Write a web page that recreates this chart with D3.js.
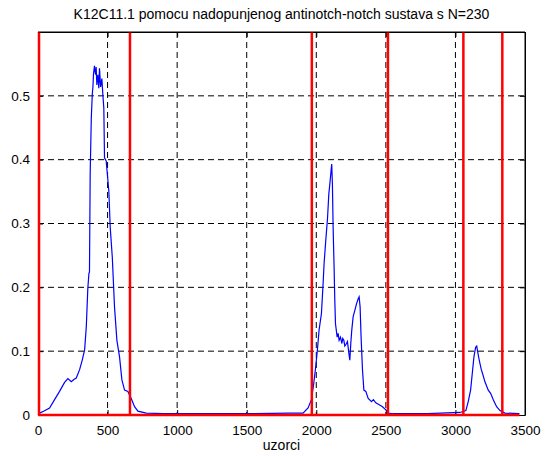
<!DOCTYPE html>
<html>
<head>
<meta charset="utf-8">
<script src="https://cdn.jsdelivr.net/npm/d3@7"></script>
<style>
  body { margin: 0; background: #fff; }
  text { font-family: "Liberation Sans", Arial, sans-serif; }
</style>
</head>
<body>
<svg id="chart" width="550" height="456"></svg>
<script>
// chart text
let title = "K12C11.1 pomocu nadopunjenog antinotch-notch sustava s N=230",
    xLabel = "uzorci";

let xTicks = [0, 500, 1000, 1500, 2000, 2500, 3000, 3500],
    yTicks = [0, 0.1, 0.2, 0.3, 0.4, 0.5];

// signal (sample index, value)
let sampleX = [0, 11, 40, 83, 119, 155, 191, 215, 239, 260, 275, 299, 318, 335, 347, 358, 366, 370, 375, 383, 390, 395,
               399, 406, 410, 414, 418, 423, 430, 437, 442, 450, 459, 466, 473, 478, 490, 509, 519, 534, 550, 567, 586,
               603, 622, 646, 670, 694, 718, 778, 900, 1200, 1500, 1810, 1905, 1941, 1965, 1982, 1996, 2008, 2020, 2037,
               2049, 2056, 2068, 2081, 2090, 2097, 2106, 2111, 2116, 2121, 2128, 2133, 2138, 2150, 2157, 2164, 2174, 2184,
               2190, 2198, 2205, 2212, 2224, 2234, 2241, 2248, 2255, 2265, 2277, 2289, 2301, 2308, 2315, 2322, 2332, 2342,
               2356, 2373, 2397, 2410, 2428, 2452, 2476, 2500, 2516, 2552, 2800, 3032, 3075, 3092, 3109, 3121, 3133, 3145,
               3153, 3160, 3171, 3186, 3195, 3212, 3236, 3253, 3272, 3296, 3320, 3356, 3460];
let sampleY = [0, 0.003, 0.006, 0.011, 0.024, 0.037, 0.051, 0.057, 0.052, 0.056, 0.058, 0.071, 0.086, 0.102, 0.138, 0.198,
               0.222, 0.224, 0.377, 0.465, 0.502, 0.515, 0.535, 0.547, 0.538, 0.533, 0.545, 0.517, 0.533, 0.512, 0.543,
               0.514, 0.527, 0.502, 0.481, 0.403, 0.398, 0.351, 0.294, 0.247, 0.169, 0.117, 0.091, 0.055, 0.039, 0.037,
               0.026, 0.013, 0.006, 0.003, 0.002, 0.002, 0.002, 0.003, 0.003, 0.011, 0.024, 0.050, 0.076, 0.102, 0.133,
               0.159, 0.206, 0.237, 0.273, 0.309, 0.346, 0.361, 0.382, 0.393, 0.361, 0.294, 0.231, 0.180, 0.143, 0.122,
               0.128, 0.117, 0.122, 0.112, 0.120, 0.117, 0.108, 0.110, 0.115, 0.097, 0.086, 0.112, 0.133, 0.154, 0.164,
               0.174, 0.182, 0.185, 0.169, 0.122, 0.071, 0.039, 0.037, 0.026, 0.021, 0.024, 0.019, 0.016, 0.013, 0.008,
               0.003, 0.002, 0.002, 0.004, 0.007, 0.021, 0.039, 0.065, 0.091, 0.106, 0.108, 0.099, 0.086, 0.071, 0.065,
               0.052, 0.039, 0.034, 0.024, 0.013, 0.007, 0.003, 0.002];

// detected segment boundaries (red)
let boundaries = [0, 661, 1968, 2515, 3057, 3337];
let baselineEnd = 3460;

let margin = {left: 38, top: 32, right: 25, bottom: 41},
    width = 550 - margin.left - margin.right,
    height = 456 - margin.top - margin.bottom;

let x = d3.scaleLinear().domain([0, 3500]).range([0, width]);
let y = d3.scaleLinear().domain([0, 0.6]).range([height, 0]);

let svg = d3.select("#chart");
let g = svg.append("g")
    .attr("transform", "translate(" + margin.left + "," + margin.top + ")");

// grid
g.append("g").selectAll("line")
  .data(xTicks.slice(1, -1))
  .join("line")
    .attr("x1", d => x(d)).attr("x2", d => x(d))
    .attr("y1", 0).attr("y2", height)
    .attr("stroke", "#000").attr("stroke-width", 1)
    .attr("stroke-dasharray", "6,4");

g.append("g").selectAll("line")
  .data(yTicks.slice(1))
  .join("line")
    .attr("x1", 0).attr("x2", width)
    .attr("y1", d => y(d)).attr("y2", d => y(d))
    .attr("stroke", "#000").attr("stroke-width", 1)
    .attr("stroke-dasharray", "6,4");

// axes, ticks inward like matlab
let fmt = d => d === 0 ? "0" : d3.format(".1f")(d);
let xAxis = g.append("g")
    .attr("transform", "translate(0," + height + ")")
    .call(d3.axisBottom(x).tickValues(xTicks).tickSizeInner(-5).tickSizeOuter(0).tickPadding(10).tickFormat(d3.format("d")));
let xAxisTop = g.append("g")
    .call(d3.axisTop(x).tickValues(xTicks).tickSizeInner(-5).tickSizeOuter(0).tickFormat(""));
let yAxis = g.append("g")
    .call(d3.axisLeft(y).tickValues(yTicks).tickSizeInner(-5).tickSizeOuter(0).tickPadding(8).tickFormat(fmt));
let yAxisRight = g.append("g")
    .attr("transform", "translate(" + width + ",0)")
    .call(d3.axisRight(y).tickValues(yTicks).tickSizeInner(-5).tickSizeOuter(0).tickFormat(""));

[xAxis, xAxisTop, yAxis, yAxisRight].forEach(a => {
  a.select(".domain").attr("stroke", "#000");
  a.selectAll(".tick line").attr("stroke", "#000");
  a.selectAll(".tick text").attr("fill", "#000").style("font-size", "13.5px")
    .style("font-family", "'Liberation Sans', Arial, sans-serif");
});

// blue signal
let line = d3.line()
  .x((d, i) => x(sampleX[i]))
  .y(d => y(d));

g.append("path")
  .datum(sampleY)
  .attr("fill", "none")
  .attr("stroke", "#0000ff")
  .attr("stroke-width", 1.2)
  .attr("d", line);

// red boundaries
g.append("line")
  .attr("x1", x(0)).attr("x2", x(baselineEnd))
  .attr("y1", y(0)).attr("y2", y(0))
  .attr("stroke", "#ff0000").attr("stroke-width", 2.5);

g.append("g").selectAll("line")
  .data(boundaries)
  .join("line")
    .attr("x1", d => x(d) + (d === 0 ? 1 : 0)).attr("x2", d => x(d) + (d === 0 ? 1 : 0))
    .attr("y1", 0).attr("y2", height)
    .attr("stroke", "#ff0000").attr("stroke-width", 2.5);

// box edges on top
g.append("line").attr("x1", 0).attr("x2", width).attr("y1", 0).attr("y2", 0).attr("stroke", "#000");
g.append("line").attr("x1", width).attr("x2", width).attr("y1", 0).attr("y2", height).attr("stroke", "#000");

// labels
svg.append("text")
  .attr("x", margin.left + width / 2).attr("y", 19)
  .attr("text-anchor", "middle")
  .style("font-size", "14px")
  .text(title);

svg.append("text")
  .attr("x", margin.left + width / 2).attr("y", 450)
  .attr("text-anchor", "middle")
  .style("font-size", "14px")
  .text(xLabel);
</script>
</body>
</html>
